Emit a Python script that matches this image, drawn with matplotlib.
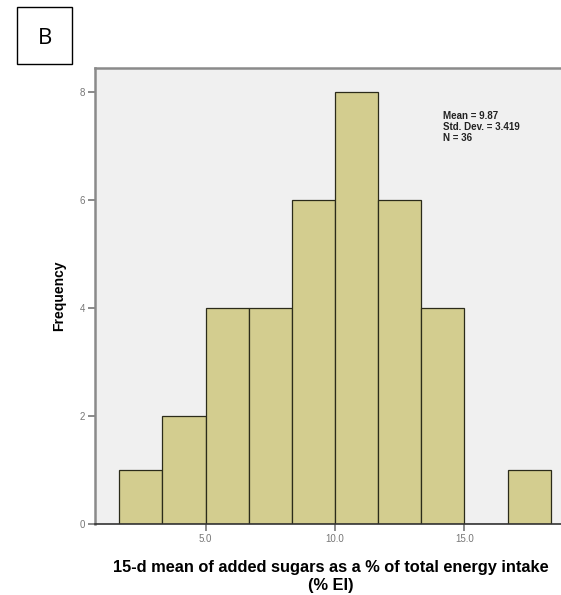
import matplotlib

matplotlib.use("Agg")
import matplotlib.pyplot as plt
from matplotlib.patches import Rectangle

# histogram bins (% EI) and counts per bin
bin_edges = [1.667, 3.333, 5.0, 6.667, 8.333, 10.0, 11.667, 13.333, 15.0, 16.667, 18.333]
counts = [1, 2, 4, 4, 6, 8, 6, 4, 0, 1]
x_ticks = [5.0, 10.0, 15.0]
x_tick_labels = ["5.0", "10.0", "15.0"]
y_ticks = [0, 2, 4, 6, 8]
stats_text = "Mean = 9.87\nStd. Dev. = 3.419\nN = 36"
x_label = "15-d mean of added sugars as a % of total energy intake\n(% EI)"

plt.rcParams["font.family"] = ["Liberation Sans", "DejaVu Sans"]

fig = plt.figure(figsize=(5.61, 5.95), dpi=100)
ax = fig.add_axes([95 / 561, 1 - 524 / 595, 1 - 95 / 561 + 0.01, (524 - 68) / 595])
ax.set_facecolor("#f0f0f0")

widths = [b - a for a, b in zip(bin_edges[:-1], bin_edges[1:])]
ax.bar(bin_edges[:-1], counts, width=widths, align="edge",
       color="#d3cd8f", edgecolor="#2b2b1a", linewidth=0.9, zorder=2)

ax.set_xlim(0.73, 18.95)
ax.set_ylim(0, 8.44)
ax.set_xticks(x_ticks)
ax.set_xticklabels(x_tick_labels)
ax.set_yticks(y_ticks)
ax.tick_params(axis="both", colors="#777777", labelsize=7, length=5, width=1.2, pad=2)
for side in ("left", "top", "right"):
    ax.spines[side].set_color("#8a8a8a")
    ax.spines[side].set_linewidth(1.8)
ax.spines["bottom"].set_color("#333333")
ax.spines["bottom"].set_linewidth(1.2)

ax.set_ylabel("Frequency", fontsize=10, fontweight="bold", labelpad=10)
ax.set_xlabel(x_label, fontsize=11.8, fontweight="bold", labelpad=12, linespacing=1.25)

ax.text(0.737, 0.905, stats_text, transform=ax.transAxes, fontsize=7,
        fontweight="bold", color="#222222", va="top", ha="left", linespacing=1.1)

# panel letter in a box
fig.patches.append(Rectangle((17 / 561, 1 - 64 / 595), 55 / 561, 57 / 595,
                             transform=fig.transFigure, fill=False,
                             edgecolor="black", linewidth=1.0))
fig.text(45 / 561, 1 - 38 / 595, "B", fontsize=16, ha="center", va="center",
         family=["Open Sans", "DejaVu Sans"])

fig.savefig("out.png", dpi=100)
plt.close(fig)
